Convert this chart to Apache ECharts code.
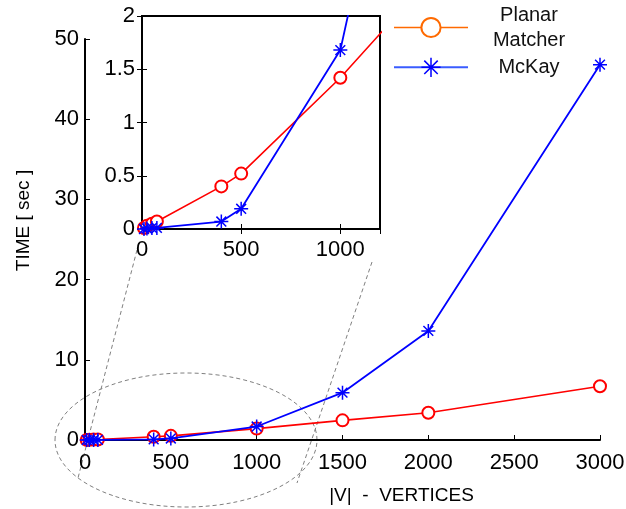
<!DOCTYPE html>
<html>
<head>
<meta charset="utf-8">
<script src="https://cdn.jsdelivr.net/npm/echarts@6/dist/echarts.min.js"></script>
<style>
  html, body { margin: 0; padding: 0; background: #fff; }
  #main { width: 626px; height: 509px; }
</style>
</head>
<body>
<div id="main"></div>
<script>
// 数据: 顶点数 |V| 与运行时间(秒)
const vertices = [10, 25, 50, 75, 400, 500, 1000, 1500, 2000, 3000]
const planarTimes = [0.01, 0.03, 0.05, 0.07, 0.40, 0.52, 1.42, 2.45, 3.4, 6.7]
const mckayTimes = [0.0, 0.005, 0.01, 0.01, 0.07, 0.19, 1.68, 5.9, 13.6, 46.8]
const seriesNames = ['Planar Matcher', 'McKay']

// 刻度
const mainXTicks = [0, 500, 1000, 1500, 2000, 2500, 3000]
const mainYTicks = [0, 10, 20, 30, 40, 50]
const insetXTicks = [0, 500, 1000]
const insetXMax = 1200
const insetYTicks = [0, 0.5, 1, 1.5, 2]

const font = '"Liberation Sans", Arial, sans-serif'
const starPath = 'path://M10,0L10,20M0,10L20,10M3,3L17,17M3,17L17,3'

const chart = echarts.init(document.getElementById('main'), null, { renderer: 'canvas' })

const pairs = (ys) => vertices.map((x, i) => [x, ys[i]])

function axisBase (ticks, max) {
  return {
    type: 'value',
    min: ticks[0],
    max: max !== undefined ? max : ticks[ticks.length - 1],
    interval: ticks[1] - ticks[0],
    splitLine: { show: false },
    axisLine: { show: true, lineStyle: { color: '#000', width: 2 } },
    axisTick: { show: true, inside: true, length: 5, lineStyle: { color: '#000', width: 1 } },
    axisLabel: { color: '#000', fontSize: 22, fontFamily: font, formatter: (v) => String(v) }
  }
}

// 内嵌图上/右侧只显示刻度
function tickOnly (ticks, max, gridIndex, position) {
  const a = axisBase(ticks, max)
  a.gridIndex = gridIndex
  a.position = position
  a.axisLabel = { show: false }
  return a
}

function redSeries (xi, yi) {
  return {
    name: seriesNames[0],
    type: 'line',
    xAxisIndex: xi,
    yAxisIndex: yi,
    data: pairs(planarTimes),
    symbol: 'emptyCircle',
    symbolSize: 12,
    clip: true,
    itemStyle: { color: '#ff0000', borderWidth: 1.5 },
    lineStyle: { color: '#ff0000', width: 1.6 },
    z: 3
  }
}

function blueSeries (xi, yi) {
  return {
    name: seriesNames[1],
    type: 'line',
    xAxisIndex: xi,
    yAxisIndex: yi,
    data: pairs(mckayTimes),
    symbol: starPath,
    symbolSize: 14,
    clip: true,
    itemStyle: { color: '#0000ff', borderColor: '#0000ff', borderWidth: 1.5 },
    lineStyle: { color: '#0000ff', width: 1.8 },
    z: 4
  }
}

const mainX = axisBase(mainXTicks)
mainX.gridIndex = 0
mainX.axisLabel.margin = 12
mainX.name = '|V|  -  VERTICES'
mainX.nameLocation = 'middle'
mainX.nameGap = 46
mainX.nameTextStyle = { color: '#000', fontSize: 19, fontFamily: font, padding: [0, 0, 0, 118] }

const mainY = axisBase(mainYTicks)
mainY.gridIndex = 0
mainY.axisLabel.margin = 6
mainY.name = 'TIME [ sec ]'
mainY.nameLocation = 'middle'
mainY.nameRotate = 90
mainY.nameGap = 52
mainY.nameTextStyle = { color: '#000', fontSize: 19, fontFamily: font, padding: [0, 0, 0, 38] }

const insetX = axisBase(insetXTicks, insetXMax)
insetX.gridIndex = 1
insetX.axisLabel.margin = 10
insetX.axisLabel.showMaxLabel = false

const insetY = axisBase(insetYTicks)
insetY.gridIndex = 1
insetY.axisLabel.margin = 7

const option = {
  animation: false,
  backgroundColor: '#fff',
  grid: [
    { left: 85, top: 39, right: 26, bottom: 69, outerBoundsMode: 'none' },
    { left: 142, top: 16, width: 238, height: 213, outerBoundsMode: 'none', show: true, backgroundColor: '#fff', borderColor: '#000', borderWidth: 2 }
  ],
  legend: {
    left: 393,
    top: 5,
    padding: 0,
    orient: 'vertical',
    itemWidth: 74,
    itemHeight: 24,
    itemGap: 7,
    data: [
      { name: seriesNames[0], itemStyle: { color: '#ff6a00', borderColor: '#ff6a00', borderWidth: 1.5 }, lineStyle: { color: '#ff6a00', width: 1.5 } },
      { name: seriesNames[1], itemStyle: { color: '#0000ff', borderColor: '#0000ff', borderWidth: 1.5 }, lineStyle: { color: '#3a5cff', width: 2 } }
    ],
    formatter: (name) => '{t|' + name.replace(' ', '\n') + '}',
    textStyle: {
      rich: { t: { width: 112, align: 'center', fontSize: 20, lineHeight: 25, fontFamily: font, color: '#111' } }
    }
  },
  xAxis: [mainX, insetX, tickOnly(insetXTicks, insetXMax, 1, 'top')],
  yAxis: [mainY, insetY, tickOnly(insetYTicks, undefined, 1, 'right')],
  series: [redSeries(0, 0), blueSeries(0, 0), redSeries(1, 1), blueSeries(1, 1)],
  graphic: [
    { type: 'ellipse', silent: true, z: 0, shape: { cx: 186, cy: 440, rx: 131, ry: 67 }, style: { fill: 'none', stroke: '#808080', lineWidth: 1, lineDash: [4, 3] } },
    { type: 'line', silent: true, z: 0, shape: { x1: 137, y1: 250, x2: 78, y2: 478 }, style: { stroke: '#808080', lineWidth: 1, lineDash: [4, 3] } },
    { type: 'line', silent: true, z: 0, shape: { x1: 372, y1: 262, x2: 297, y2: 483 }, style: { stroke: '#808080', lineWidth: 1, lineDash: [4, 3] } }
  ]
}

chart.setOption(option)
</script>
</body>
</html>
